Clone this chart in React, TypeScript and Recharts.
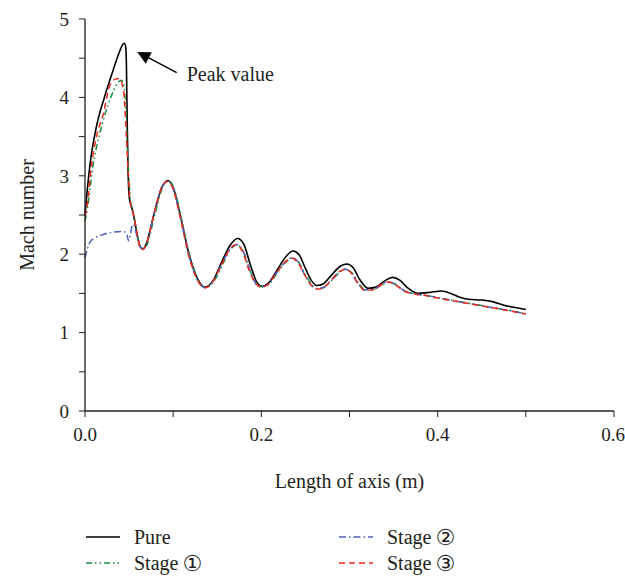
import React from "react";
import { LineChart, Line, XAxis, YAxis, ReferenceLine } from "recharts";

// [x (m), Mach number]
const pure: [number, number][] = [
  [0, 2.5], [0.002, 2.75], [0.006, 3.17], [0.013, 3.63], [0.022, 4.0], [0.032, 4.35],
  [0.039, 4.58], [0.0425, 4.67], [0.0445, 4.69], [0.0462, 4.64], [0.047, 4.4], [0.048, 3.6],
  [0.049, 3.0], [0.0505, 2.7], [0.053, 2.6], [0.056, 2.45], [0.06, 2.2], [0.063, 2.09],
  [0.066, 2.07], [0.07, 2.15], [0.078, 2.5], [0.087, 2.85], [0.094, 2.94], [0.1, 2.85],
  [0.108, 2.5], [0.118, 2.0], [0.128, 1.68], [0.136, 1.58], [0.145, 1.66], [0.155, 1.9],
  [0.165, 2.12], [0.173, 2.2], [0.18, 2.13], [0.188, 1.85], [0.195, 1.64], [0.201, 1.59],
  [0.208, 1.63], [0.218, 1.8], [0.228, 1.97], [0.236, 2.04], [0.243, 1.99], [0.25, 1.82],
  [0.257, 1.66], [0.263, 1.6], [0.27, 1.62], [0.28, 1.74], [0.29, 1.85], [0.297, 1.875],
  [0.304, 1.83], [0.312, 1.67], [0.321, 1.565], [0.33, 1.58], [0.34, 1.66], [0.349, 1.705],
  [0.357, 1.67], [0.366, 1.57], [0.378, 1.5], [0.392, 1.515], [0.404, 1.53], [0.415, 1.5],
  [0.425, 1.45], [0.435, 1.425], [0.45, 1.415], [0.462, 1.395], [0.475, 1.35], [0.488, 1.32],
  [0.5, 1.295],
];

const stage1: [number, number][] = [
  [0, 2.42], [0.003, 2.6], [0.008, 3.05], [0.017, 3.55], [0.026, 3.9], [0.033, 4.1],
  [0.038, 4.2], [0.0415, 4.22], [0.044, 4.15], [0.046, 3.9], [0.048, 3.4], [0.05, 2.95],
  [0.052, 2.65], [0.055, 2.5], [0.058, 2.33], [0.061, 2.15], [0.064, 2.08], [0.067, 2.07],
  [0.071, 2.14], [0.079, 2.5], [0.088, 2.85], [0.095, 2.935], [0.101, 2.84], [0.109, 2.47],
  [0.119, 1.97], [0.129, 1.66], [0.137, 1.575], [0.146, 1.65], [0.156, 1.87], [0.165, 2.06],
  [0.172, 2.12], [0.179, 2.05], [0.187, 1.8], [0.195, 1.62], [0.201, 1.585], [0.208, 1.61],
  [0.218, 1.76], [0.228, 1.9], [0.235, 1.95], [0.242, 1.9], [0.25, 1.74], [0.258, 1.6],
  [0.264, 1.56], [0.271, 1.575], [0.281, 1.68], [0.29, 1.78], [0.296, 1.805], [0.303, 1.76],
  [0.311, 1.62], [0.318, 1.545], [0.327, 1.55], [0.337, 1.61], [0.345, 1.645], [0.353, 1.61],
  [0.363, 1.53], [0.376, 1.49], [0.386, 1.475], [0.4, 1.445], [0.415, 1.415], [0.43, 1.385],
  [0.45, 1.345], [0.47, 1.305], [0.485, 1.275], [0.5, 1.24],
];

const stage2: [number, number][] = [
  [0, 1.95], [0.003, 2.08], [0.006, 2.16], [0.012, 2.21], [0.02, 2.25], [0.032, 2.28],
  [0.042, 2.29], [0.047, 2.27], [0.0495, 2.17], [0.0515, 2.25], [0.054, 2.38], [0.056, 2.36],
  [0.059, 2.22], [0.062, 2.1], [0.066, 2.07], [0.07, 2.14], [0.078, 2.5], [0.087, 2.85],
  [0.094, 2.93], [0.1, 2.84], [0.108, 2.48], [0.118, 1.98], [0.128, 1.66], [0.136, 1.575],
  [0.145, 1.65], [0.155, 1.87], [0.164, 2.06], [0.172, 2.125], [0.179, 2.05], [0.187, 1.8],
  [0.194, 1.62], [0.2, 1.585], [0.207, 1.61], [0.217, 1.76], [0.227, 1.9], [0.235, 1.955],
  [0.242, 1.9], [0.249, 1.74], [0.257, 1.6], [0.263, 1.56], [0.27, 1.575], [0.28, 1.68],
  [0.289, 1.78], [0.295, 1.81], [0.302, 1.76], [0.31, 1.62], [0.317, 1.545], [0.326, 1.55],
  [0.336, 1.61], [0.344, 1.65], [0.352, 1.615], [0.362, 1.535], [0.375, 1.49], [0.385, 1.478],
  [0.4, 1.445], [0.415, 1.412], [0.43, 1.382], [0.45, 1.342], [0.47, 1.302], [0.485, 1.272],
  [0.5, 1.24],
];

const stage3: [number, number][] = [
  [0, 2.48], [0.002, 2.58], [0.007, 3.1], [0.013, 3.5], [0.021, 3.8], [0.028, 4.15],
  [0.034, 4.23], [0.039, 4.24], [0.042, 4.17], [0.0445, 4.0], [0.047, 3.5], [0.049, 3.03],
  [0.0515, 2.65], [0.054, 2.55], [0.057, 2.4], [0.06, 2.2], [0.063, 2.08], [0.066, 2.06],
  [0.07, 2.14], [0.078, 2.5], [0.087, 2.85], [0.094, 2.93], [0.1, 2.83], [0.108, 2.47],
  [0.118, 1.97], [0.128, 1.66], [0.136, 1.57], [0.145, 1.65], [0.155, 1.87], [0.164, 2.06],
  [0.171, 2.12], [0.178, 2.05], [0.186, 1.8], [0.194, 1.62], [0.2, 1.58], [0.207, 1.61],
  [0.217, 1.76], [0.227, 1.9], [0.234, 1.95], [0.241, 1.9], [0.249, 1.74], [0.257, 1.6],
  [0.263, 1.555], [0.27, 1.57], [0.28, 1.68], [0.289, 1.78], [0.295, 1.805], [0.302, 1.76],
  [0.31, 1.62], [0.317, 1.54], [0.326, 1.545], [0.336, 1.61], [0.344, 1.645], [0.352, 1.61],
  [0.362, 1.53], [0.375, 1.49], [0.385, 1.475], [0.4, 1.44], [0.415, 1.41], [0.43, 1.38],
  [0.45, 1.34], [0.47, 1.3], [0.485, 1.27], [0.5, 1.235],
];

const xTicks = [0, 0.1, 0.2, 0.3, 0.4, 0.5, 0.6];
const yTicks = [0, 0.5, 1, 1.5, 2, 2.5, 3, 3.5, 4, 4.5, 5];

// arrow from the label to the peak
const arrowFrom = { x: 0.104, y: 4.315 };
const arrowTo = { x: 0.0593, y: 4.58 };

const FONT = "Liberation Serif";
const INK = "#231f20";

const series = [
  { name: "Pure", num: "", data: pure, color: "#000000", dash: undefined as string | undefined, width: 1.6 },
  { name: "Stage", num: "①", data: stage1, color: "#178c3c", dash: "6 3 1.5 3 1.5 3", width: 1.5 },
  { name: "Stage", num: "②", data: stage2, color: "#4d5fbf", dash: "7 3 1.5 3", width: 1.5 },
  { name: "Stage", num: "③", data: stage3, color: "#ee2a1f", dash: "6 4", width: 1.5 },
];

const toRows = (pts: [number, number][]) => pts.map(([x, y]) => ({ x, y }));

function Arrow(props: any) {
  const { x1, y1, x2, y2 } = props;
  const dx = x2 - x1;
  const dy = y2 - y1;
  const len = Math.sqrt(dx * dx + dy * dy);
  const ux = dx / len;
  const uy = dy / len;
  const bx = x2 - ux * 13;
  const by = y2 - uy * 13;
  const px = -uy * 6.5;
  const py = ux * 6.5;
  return (
    <g>
      <line x1={x1} y1={y1} x2={bx} y2={by} stroke="#000" strokeWidth={1.4} />
      <polygon points={`${x2},${y2} ${bx + px},${by + py} ${bx - px},${by - py}`} fill="#000" />
      <text x={x1 + 10} y={y1 + 8} fontFamily={FONT} fontSize={20} fill={INK}>Peak value</text>
    </g>
  );
}

const legendPos = [
  { left: 86, top: 537 },
  { left: 86, top: 563 },
  { left: 339, top: 537 },
  { left: 339, top: 563 },
];

export default function App() {
  return (
    <div style={{ position: "absolute", left: 0, top: 0, width: 625, height: 576, background: "#fff" }}>
      <LineChart width={625} height={576} margin={{ top: 19, right: 11, left: 0, bottom: 0 }}>
        <XAxis
          type="number"
          dataKey="x"
          domain={[0, 0.6]}
          ticks={xTicks}
          tickFormatter={(v) => (Math.round(v * 10) % 2 === 0 ? Number(v).toFixed(1) : "")}
          height={165}
          tickSize={6}
          tickMargin={11}
          stroke={INK}
          tick={{ fill: INK, fontSize: 19, fontFamily: FONT }}
          axisLine={{ stroke: INK, strokeWidth: 1.3 }}
          label={{ value: "Length of axis (m)", position: "insideTop", offset: 63, fill: INK, fontSize: 20, fontFamily: FONT }}
        />
        <XAxis xAxisId="top" orientation="top" type="number" domain={[0, 0.6]} height={0} tick={false} tickLine={false} axisLine={{ stroke: "#444", strokeWidth: 1.3 }} />
        <YAxis
          type="number"
          domain={[0, 5]}
          ticks={yTicks}
          tickFormatter={(v) => (Number.isInteger(v) ? String(v) : "")}
          width={85}
          tickSize={6}
          tickMargin={10}
          stroke={INK}
          tick={{ fill: INK, fontSize: 19, fontFamily: FONT }}
          axisLine={{ stroke: INK, strokeWidth: 1.3 }}
          label={{ value: "Mach number", angle: -90, position: "insideLeft", offset: 27, fill: INK, fontSize: 20, fontFamily: FONT, style: { textAnchor: "middle" } }}
        />
        <YAxis yAxisId="right" orientation="right" type="number" domain={[0, 5]} width={0} tick={false} tickLine={false} axisLine={{ stroke: "#444", strokeWidth: 1.3 }} />
        {series.map((s, i) => (
          <Line
            key={i}
            data={toRows(s.data)}
            dataKey="y"
            type="monotone"
            stroke={s.color}
            strokeWidth={s.width}
            strokeDasharray={s.dash}
            dot={false}
            activeDot={false}
            isAnimationActive={false}
          />
        ))}
        <ReferenceLine segment={[arrowFrom, arrowTo]} shape={Arrow} ifOverflow="visible" />
      </LineChart>
      {series.map((s, i) => (
        <div
          key={i}
          style={{
            position: "absolute", left: legendPos[i].left, top: legendPos[i].top - 12, height: 24,
            display: "flex", alignItems: "center", fontFamily: FONT, fontSize: 20, color: INK,
          }}
        >
          <svg width={34} height={6} style={{ marginRight: 14 }}>
            <line x1={0} y1={3} x2={34} y2={3} stroke={s.color} strokeWidth={s.width} strokeDasharray={s.dash} />
          </svg>
          <span>{s.name}</span>
          {s.num && <span style={{ fontFamily: "DejaVu Sans", fontSize: 22, marginLeft: 4 }}>{s.num}</span>}
        </div>
      ))}
    </div>
  );
}
